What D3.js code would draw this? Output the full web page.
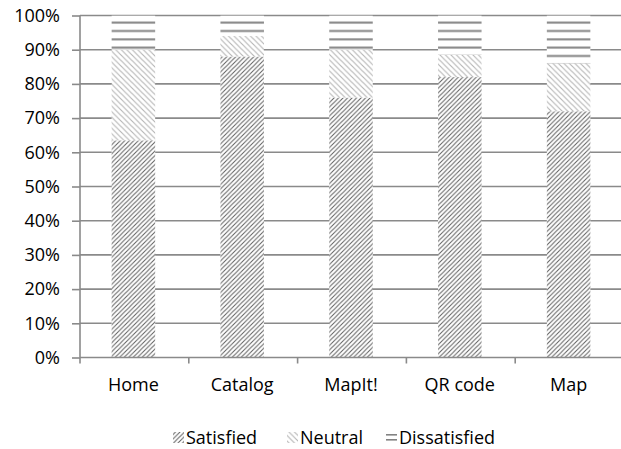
<!DOCTYPE html>
<html>
<head>
<meta charset="utf-8">
<script src="https://cdn.jsdelivr.net/npm/d3@7"></script>
<style>
  html, body { margin: 0; padding: 0; background: #fff; }
  svg text { font-family: "Open Sans", sans-serif; fill: #000; }
</style>
</head>
<body>
<svg id="chart" width="621" height="449"></svg>
<script>
// Survey satisfaction per feature (percent of respondents)
const categories = ["Home", "Catalog", "MapIt!", "QR code", "Map"];
const satisfied = [63.5, 88, 76, 82, 72];
const neutral = [26.5, 6, 14, 6.5, 14];
const dissatisfied = [10, 6, 10, 11.5, 14];
const seriesNames = ["Satisfied", "Neutral", "Dissatisfied"];
const yTicks = [0, 10, 20, 30, 40, 50, 60, 70, 80, 90, 100];

const svg = d3.select("#chart");
const gridColor = "#8a8a8a";
const fontSize = "18px";

// Hatch fills
const defs = svg.append("defs");
const pSat = defs.append("pattern").attr("id", "pat-sat")
  .attr("patternUnits", "userSpaceOnUse").attr("width", 4.5).attr("height", 4.5);
pSat.append("rect").attr("width", 4.5).attr("height", 4.5).attr("fill", "#fff");
pSat.append("path").attr("d", "M-1,5.5 L5.5,-1 M-1,1 L1,-1 M3.5,5.5 L5.5,3.5")
  .attr("stroke", "#5e5e5e").attr("stroke-width", 1.0).attr("fill", "none");

const pNeu = defs.append("pattern").attr("id", "pat-neu")
  .attr("patternUnits", "userSpaceOnUse").attr("width", 5.5).attr("height", 5.5);
pNeu.append("rect").attr("width", 5.5).attr("height", 5.5).attr("fill", "#fff");
pNeu.append("path").attr("d", "M-1,-1 L6.5,6.5 M-1,4.5 L1,6.5 M4.5,-1 L6.5,1")
  .attr("stroke", "#b4b4b4").attr("stroke-width", 1.1).attr("fill", "none");

const pDis = defs.append("pattern").attr("id", "pat-dis")
  .attr("patternUnits", "userSpaceOnUse").attr("width", 20).attr("height", 8.33);
pDis.append("rect").attr("width", 20).attr("height", 8.33).attr("fill", "#fff");
pDis.append("rect").attr("x", 0).attr("y", 5.0).attr("width", 20).attr("height", 2)
  .attr("fill", "#838383");

const pDisLegend = defs.append("pattern").attr("id", "pat-dis-legend")
  .attr("patternUnits", "userSpaceOnUse").attr("width", 20).attr("height", 5).attr("y", 432);
pDisLegend.append("rect").attr("width", 20).attr("height", 5).attr("fill", "#fff");
pDisLegend.append("rect").attr("x", 0).attr("y", 2).attr("width", 20).attr("height", 1.6)
  .attr("fill", "#838383");

const fills = ["url(#pat-sat)", "url(#pat-neu)", "url(#pat-dis)"];
const legendFills = ["url(#pat-sat)", "url(#pat-neu)", "url(#pat-dis-legend)"];

// Scales
const y = d3.scaleLinear().domain([0, 100]).range([357.5, 15.5]);
const x = d3.scaleBand().domain(categories).range([79, 623])
  .paddingInner(0.6).paddingOuter(0.3);
const step = x.step();
const x0 = 79;

// Gridlines
svg.append("g").selectAll("line").data(yTicks.filter(d => d > 0)).join("line")
  .attr("x1", 80).attr("x2", 621)
  .attr("y1", d => y(d)).attr("y2", d => y(d))
  .attr("stroke", gridColor).attr("stroke-width", 1.6);

// Stacked bars
const rows = categories.map((c, i) => ({ cat: c, Satisfied: satisfied[i], Neutral: neutral[i], Dissatisfied: dissatisfied[i] }));
const stack = d3.stack().keys(seriesNames)(rows);
svg.append("g").selectAll("g").data(stack).join("g")
  .attr("fill", (d, i) => fills[i])
  .selectAll("rect").data(d => d).join("rect")
  .attr("x", d => x(d.data.cat))
  .attr("width", x.bandwidth())
  .attr("y", d => y(d[1]))
  .attr("height", d => y(d[0]) - y(d[1]));

// Y axis
const yAxis = d3.axisLeft(y).tickValues(yTicks).tickFormat(d => d + "%")
  .tickSize(8).tickPadding(12);
const gy = svg.append("g").attr("transform", "translate(80,0)").call(yAxis);
gy.select(".domain").attr("stroke", gridColor).attr("stroke-width", 1.6).attr("d", `M0,${y(100)}V${y(0)}`);
gy.selectAll(".tick line").attr("stroke", gridColor).attr("stroke-width", 1.6);
gy.selectAll(".tick text").attr("font-size", fontSize).attr("font-family", "Open Sans, sans-serif").attr("fill", "#000");

// X axis line with ticks at category boundaries
svg.append("line").attr("x1", 80).attr("x2", 621).attr("y1", y(0)).attr("y2", y(0))
  .attr("stroke", gridColor).attr("stroke-width", 1.6);
const bounds = d3.range(categories.length).map(i => x0 + 1 + i * step);
svg.append("g").selectAll("line").data(bounds).join("line")
  .attr("x1", d => d).attr("x2", d => d)
  .attr("y1", y(0)).attr("y2", y(0) + 6)
  .attr("stroke", gridColor).attr("stroke-width", 1.6);
svg.append("g").selectAll("text").data(categories).join("text")
  .attr("x", d => x(d) + x.bandwidth() / 2)
  .attr("y", 385).attr("dy", "0.35em")
  .attr("text-anchor", "middle").attr("font-size", fontSize)
  .text(d => d);

// Legend
const legendItems = [
  { name: "Satisfied", sx: 173 },
  { name: "Neutral", sx: 287 },
  { name: "Dissatisfied", sx: 386 }
];
const lg = svg.append("g").selectAll("g").data(legendItems).join("g");
lg.append("rect").attr("x", d => d.sx).attr("y", 432).attr("width", 11).attr("height", 11)
  .attr("fill", (d, i) => legendFills[i]);
lg.append("text").attr("x", d => d.sx + 13).attr("y", 438).attr("dy", "0.35em")
  .attr("font-size", fontSize).text(d => d.name);
</script>
</body>
</html>
